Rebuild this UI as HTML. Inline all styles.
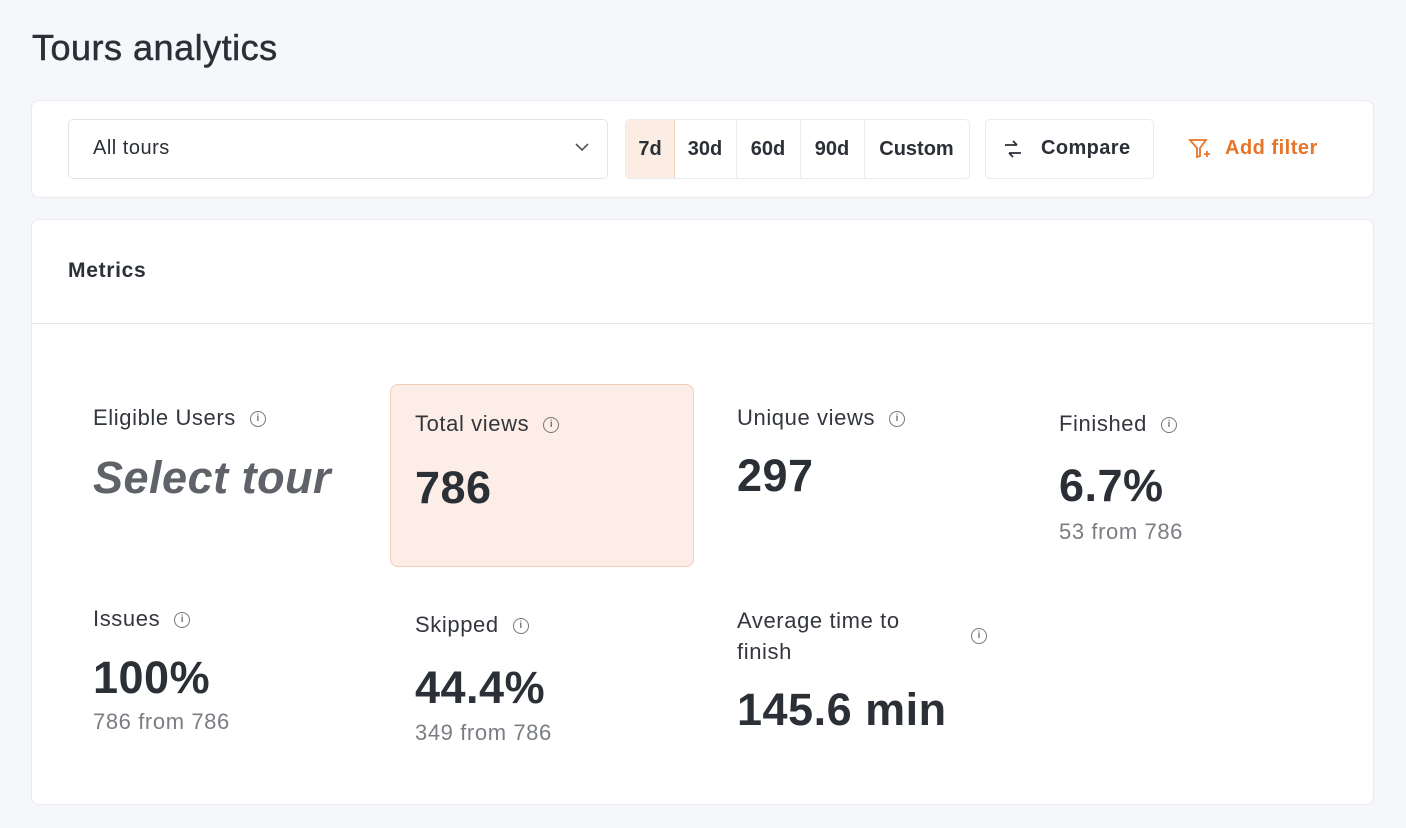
<!DOCTYPE html>
<html><head><style>
body{margin:0;width:1406px;height:828px;background:#f6f7fa;font-family:"Liberation Sans",sans-serif;color:#2b2f36;position:relative;overflow:hidden}
.a{position:absolute;white-space:nowrap}
.card{position:absolute;background:#fff;border:1px solid #e9ebef;border-radius:8px}
.seg{position:absolute;top:0;height:58px;line-height:58px;text-align:center;font-weight:bold;font-size:20px;border-right:1px solid #ececec}
.lbl{font-size:22px;color:#33373d;letter-spacing:0.6px}
.big{font-size:45px;font-weight:bold;color:#2b2f36;letter-spacing:0.5px}
.sub{font-size:22px;color:#7a7d82;letter-spacing:0.6px}
.i{display:inline-block;width:14px;height:14px;border:1.5px solid #777;border-radius:50%;font-size:10px;line-height:14px;text-align:center;color:#777;vertical-align:middle;margin-left:14px;font-weight:bold;letter-spacing:0}
</style></head><body>
<div class="a" style="left:32px;top:27px;font-size:36px;color:#2b2f36;letter-spacing:0.5px;-webkit-text-stroke:0.5px #2b2f36">Tours analytics</div>
<div class="card" style="left:31px;top:100px;width:1341px;height:96px"></div>
<div class="card" style="left:68px;top:119px;width:538px;height:58px;border-color:#e2e4e8;border-radius:5px"></div>
<div class="a" style="left:93px;top:137px;font-size:20px;letter-spacing:0.5px">All tours</div>
<svg class="a" style="left:574px;top:142px" width="16" height="10"><path d="M2 2l6 6 6-6" stroke="#555" stroke-width="1.6" fill="none"/></svg>
<div class="card" style="left:625px;top:119px;width:343px;height:58px;border-radius:5px;overflow:hidden">
<div class="seg" style="left:0;width:48px;background:#fcede4;border-right:1px solid #f2d6c4">7d</div>
<div class="seg" style="left:48px;width:62px">30d</div>
<div class="seg" style="left:110px;width:64px">60d</div>
<div class="seg" style="left:174px;width:64px">90d</div>
<div class="seg" style="left:238px;width:105px;border:none">Custom</div>
</div>
<div class="card" style="left:985px;top:119px;width:167px;height:58px;border-radius:5px"></div>
<svg class="a" style="left:1002px;top:138px" width="22" height="22"><path d="M3 7h12M11 3l4 4M19 15H7M11 19l-4-4" stroke="#2b2f36" stroke-width="1.8" fill="none"/></svg>
<div class="a" style="left:1041px;top:137px;font-size:20px;font-weight:bold;letter-spacing:0.4px">Compare</div>
<svg class="a" style="left:1188px;top:138px" width="24" height="24"><path d="M2 2h16l-6 8v8l-3 1v-9z" stroke="#e8742a" stroke-width="1.8" fill="none"/><path d="M16 16h6M19 13v6" stroke="#e8742a" stroke-width="1.8"/></svg>
<div class="a" style="left:1225px;top:137px;font-size:20px;font-weight:bold;color:#e8742a;letter-spacing:0.5px">Add filter</div>

<div class="card" style="left:31px;top:219px;width:1341px;height:584px"></div>
<div class="a" style="left:68px;top:259px;font-size:21px;font-weight:bold;letter-spacing:0.7px">Metrics</div>
<div class="a" style="left:32px;top:323px;width:1341px;height:1px;background:#e5e7eb"></div>
<div class="a" style="left:390px;top:384px;width:302px;height:181px;background:#fcede6;border:1px solid #f1ccb6;border-radius:8px"></div>

<div class="a lbl" style="left:93px;top:405px">Eligible Users<span class="i">i</span></div>
<div class="a big" style="left:93px;top:452px;font-style:italic;color:#5f6268">Select tour</div>
<div class="a lbl" style="left:415px;top:411px">Total views<span class="i">i</span></div>
<div class="a big" style="left:415px;top:462px">786</div>
<div class="a lbl" style="left:737px;top:405px">Unique views<span class="i">i</span></div>
<div class="a big" style="left:737px;top:450px">297</div>
<div class="a lbl" style="left:1059px;top:411px">Finished<span class="i">i</span></div>
<div class="a big" style="left:1059px;top:460px">6.7%</div>
<div class="a sub" style="left:1059px;top:519px">53 from 786</div>

<div class="a lbl" style="left:93px;top:606px">Issues<span class="i">i</span></div>
<div class="a big" style="left:93px;top:652px">100%</div>
<div class="a sub" style="left:93px;top:709px">786 from 786</div>
<div class="a lbl" style="left:415px;top:612px">Skipped<span class="i">i</span></div>
<div class="a big" style="left:415px;top:662px">44.4%</div>
<div class="a sub" style="left:415px;top:720px">349 from 786</div>
<div class="a lbl" style="left:737px;top:605px;line-height:31px">Average time to<br>finish</div>
<div class="a" style="left:971px;top:627px"><span class="i" style="margin:0">i</span></div>
<div class="a big" style="left:737px;top:684px">145.6 min</div>
</body></html>
